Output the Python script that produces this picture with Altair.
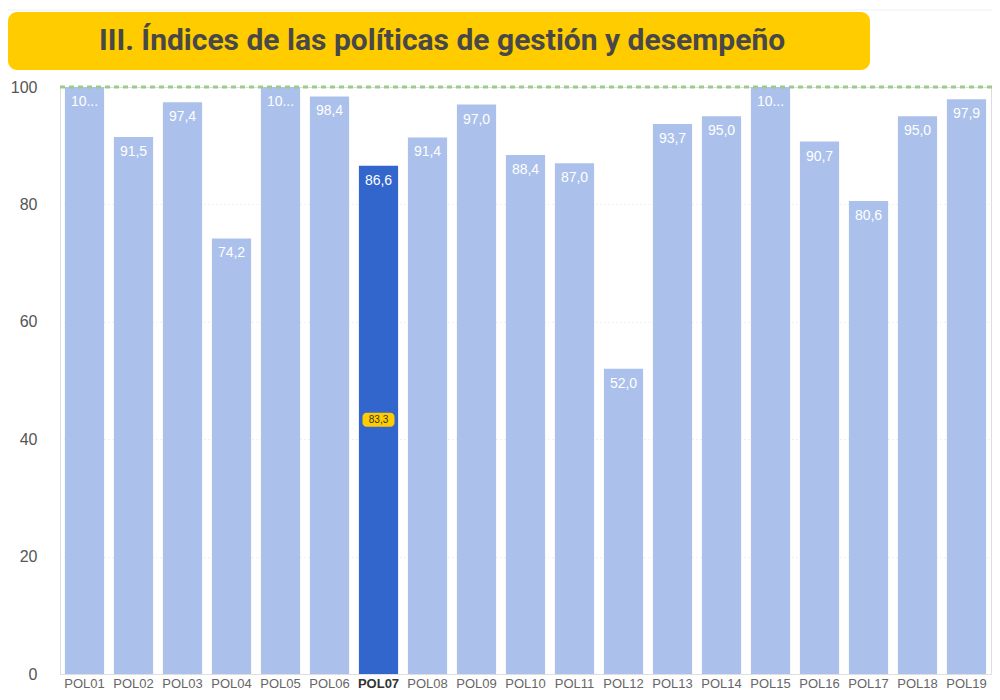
import altair as alt
import pandas as pd

categories = ["POL01", "POL02", "POL03", "POL04", "POL05", "POL06", "POL07", "POL08", "POL09", "POL10",
              "POL11", "POL12", "POL13", "POL14", "POL15", "POL16", "POL17", "POL18", "POL19"]
values = [100.0, 91.5, 97.4, 74.2, 100.0, 98.4, 86.6, 91.4, 97.0, 88.4,
          87.0, 52.0, 93.7, 95.0, 100.0, 90.7, 80.6, 95.0, 97.9]
highlight = "POL07"
reference_value = 83.3
target = 100
title_text = "III. Índices de las políticas de gestión y desempeño"
y_ticks = [0, 20, 40, 60, 80, 100]


def fmt(v):
    if v >= 100:
        return "10..."
    return f"{v:.1f}".replace(".", ",")


df = pd.DataFrame({
    "pol": categories,
    "valor": values,
    "label": [fmt(v) for v in values],
    "sel": [c == highlight for c in categories],
})

hv = values[categories.index(highlight)]
badge = pd.DataFrame({
    "pol": [highlight],
    "mid": [hv / 2],
    "lo": [hv / 2 - 1.2],
    "hi": [hv / 2 + 1.2],
    "label": [f"{reference_value:.1f}".replace(".", ",")],
})

W, H = 931, 587
FONT = "Liberation Sans"

x_enc = alt.X("pol:N", sort=categories, title=None,
              scale=alt.Scale(paddingInner=0.2, paddingOuter=0.1),
              axis=alt.Axis(labelAngle=0, ticks=False, domain=False, labelPadding=3,
                            labelFontSize=13, labelFont=FONT,
                            labelColor=alt.condition(f"datum.value == '{highlight}'", alt.value("#333333"), alt.value("#666666")),
                            labelFontWeight=alt.condition(f"datum.value == '{highlight}'", alt.value("bold"), alt.value("normal"))))
y_scale = alt.Scale(domain=[0, 100], nice=False)

base = alt.Chart(df)

bars = base.mark_bar().encode(
    x=x_enc,
    y=alt.Y("valor:Q", scale=y_scale, title=None,
            axis=alt.Axis(values=y_ticks, ticks=False, domain=False, labelFontSize=16, labelFont=FONT,
                          labelColor="#555555", labelPadding=23,
                          grid=True, gridColor="#e3e3e3", gridDash=[1, 3], gridWidth=1)),
    color=alt.condition("datum.sel", alt.value("#3366CC"), alt.value("#ABC1EB")),
)

labels = base.mark_text(baseline="top", dy=8, fontSize=14, font=FONT, color="white").encode(
    x=alt.X("pol:N", sort=categories),
    y=alt.Y("valor:Q", scale=y_scale),
    text="label:N",
)

target_rule = alt.Chart(pd.DataFrame({"t": [target]})).mark_rule(
    color="#9CCC8C", strokeDash=[5, 4], strokeWidth=3, opacity=1
).encode(y=alt.Y("t:Q", scale=y_scale), x=alt.value(0), x2=alt.value(W + 9))

badge_box = alt.Chart(badge).mark_bar(width=32, color="#FFCC00", cornerRadius=4).encode(
    x=alt.X("pol:N", sort=categories),
    y=alt.Y("lo:Q", scale=y_scale),
    y2="hi:Q",
)
badge_text = alt.Chart(badge).mark_text(fontSize=10, font=FONT, color="#333333", baseline="middle").encode(
    x=alt.X("pol:N", sort=categories),
    y=alt.Y("mid:Q", scale=y_scale),
    text="label:N",
)

top_line = alt.Chart(pd.DataFrame({"a": [0]})).mark_rule(color="#EEEEF8", strokeWidth=1).encode(
    x=alt.value(-60), x2=alt.value(W + 20), y=alt.value(-77)
)
title_box = alt.Chart(pd.DataFrame({"a": [0]})).mark_rect(color="#FFCC00", cornerRadius=9).encode(
    x=alt.value(-52), x2=alt.value(810), y=alt.value(-75), y2=alt.value(-17)
)
title_mark = alt.Chart(pd.DataFrame({"t": [title_text]})).mark_text(
    fontSize=30, fontWeight="bold", font="Roboto", color="#484848",
    align="center", baseline="middle"
).encode(x=alt.value(382), y=alt.value(-46), text="t:N")

chart = alt.layer(top_line, title_box, title_mark, bars, labels, target_rule, badge_box, badge_text).properties(
    width=W, height=H,
    autosize=alt.AutoSizeParams(type="none"),
    padding={"left": 52, "top": 79, "right": 1, "bottom": 18},
).configure_view(stroke=None).configure(background="white")

chart.save("out.html", embed_options={"renderer": "svg", "actions": False})
